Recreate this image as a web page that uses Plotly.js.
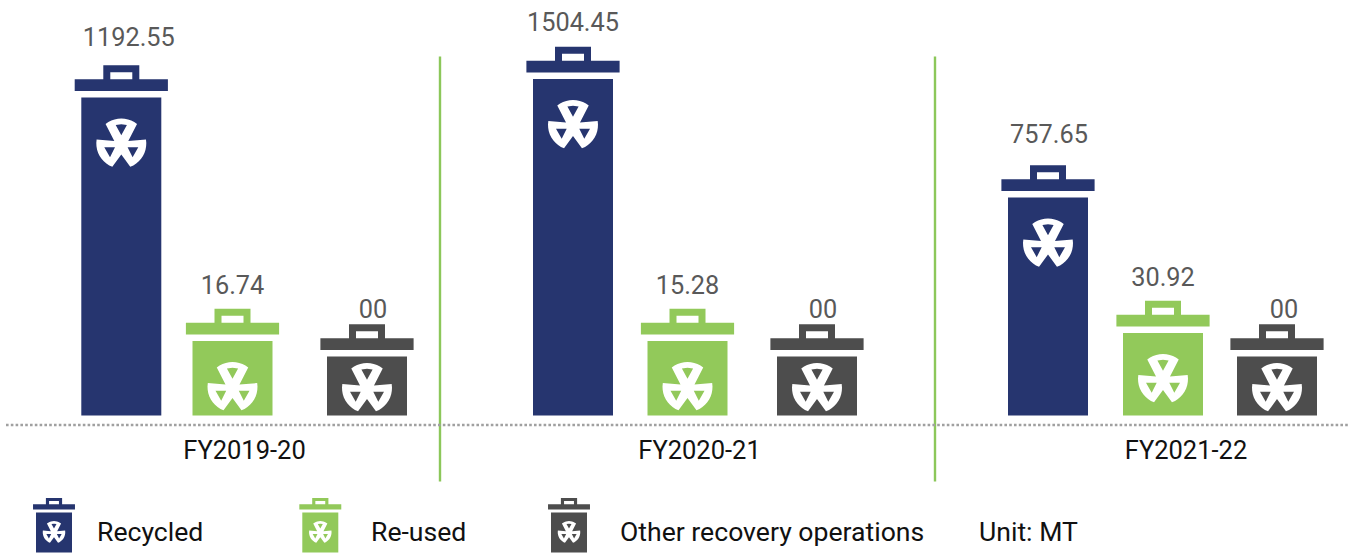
<!DOCTYPE html>
<html>
<head>
<meta charset="utf-8">
<script src="https://cdn.plot.ly/plotly-3.0.1.min.js"></script>
<style>html,body{margin:0;padding:0;background:#fff}#chart{width:1350px;height:553px}</style>
</head>
<body>
<div id="chart"></div>
<script>
// ---- data ----
const categories = ['FY2019-20', 'FY2020-21', 'FY2021-22'];
const seriesNames = ['Recycled', 'Re-used', 'Other recovery operations'];
const recycled = [1192.55, 1504.45, 757.65];
const reused = [16.74, 15.28, 30.92];
const other = [0, 0, 0];
const recycledLabels = ['1192.55', '1504.45', '757.65'];
const reusedLabels = ['16.74', '15.28', '30.92'];
const otherLabels = ['00', '00', '00'];
// The bins in the picture are pictorial: their heights are not proportional to the values.
const recycledBinHeights = [318, 336.5, 218];
const reusedBinHeights = [74.5, 74.5, 82.5];
const otherBinHeights = [59, 59, 59];
const unitNote = 'Unit: MT';

// ---- layout helpers (1 axis unit = 1 px) ----
const NAVY = '#26356f', GREEN = '#92c95a', GREY = '#4d4d4d';
const SEP = '#8cc75a', LABEL = '#595959', FONT = 'Roboto, sans-serif';
const series = [
  {name: seriesNames[0], vals: recycled, labels: recycledLabels, heights: recycledBinHeights, color: NAVY,
   xs: [121.3, 573, 1048], nudge: [7.5, 0, 1], gap: [25.5, 22.5, 28.5], legendX: 54, textX: 95},
  {name: seriesNames[1], vals: reused, labels: reusedLabels, heights: reusedBinHeights, color: GREEN,
   xs: [232.5, 687.5, 1163], nudge: [0, 0, 0], gap: [21.5, 21.5, 21], legendX: 320.3, textX: 369},
  {name: seriesNames[2], vals: other, labels: otherLabels, heights: otherBinHeights, color: GREY,
   xs: [367, 817, 1277], nudge: [6, 6, 7], gap: [12.5, 12.5, 12.5], legendX: 569, textX: 618}
];

function polyStr(pts, cx, cy, s) {
  return 'M' + pts.map(p => (cx + p[0] * s).toFixed(2) + ',' + (cy + p[1] * s).toFixed(2)).join('L') + 'Z';
}
function arc(r, a0, a1, n) {
  const out = [];
  for (let i = 0; i <= n; i++) {
    const a = (a0 + (a1 - a0) * i / n) * Math.PI / 180;
    out.push([r * Math.sin(a), r * Math.cos(a)]);
  }
  return out;
}
function trefoilPath(cx, cy, s) {
  const R = 25;
  const outer = [].concat(
    arc(R, -39, 39, 10), [[7, 2.6]],
    arc(R, 81, 159, 10), [[0, -11]],
    arc(R, 201, 279, 10), [[-7, 2.6]]
  );
  const holes = [
    [[-5.6, 18.4], [0, 19.2], [5.6, 18.4], [0, 8.3]],
    [[-17, -3.7], [-6.3, -3.7], [-11.3, -13.7]],
    [[6.3, -3.7], [17, -3.7], [11.3, -13.7]]
  ];
  return polyStr(outer, cx, cy, s) + holes.map(h => polyStr(h, cx, cy, s)).join('');
}
function lidPath(cx, top, s) {
  const lid = [[-46.6, 6.6], [46.6, 6.6], [46.6, 18.3], [18, 18.3], [18, 32.3], [-18, 32.3], [-18, 18.3], [-46.6, 18.3]];
  const hole = [[-11, 18.3], [11, 18.3], [11, 25.3], [-11, 25.3]];
  return polyStr(lid, cx, top, s) + polyStr(hole, cx, top, s);
}
function pathShape(path, color) {
  return {type: 'path', xref: 'x', yref: 'y', path: path, fillcolor: color, fillrule: 'evenodd', line: {width: 0}, layer: 'above'};
}

const shapes = [];
const annotations = [];
const traces = [];

series.forEach(s => {
  traces.push({
    type: 'bar', name: s.name, x: s.xs, y: s.heights, width: 80,
    marker: {color: s.color, line: {width: 0}},
    customdata: s.labels, hovertemplate: '%{customdata}<extra>' + s.name + '</extra>', showlegend: false
  });
  traces.push({
    type: 'scatter', mode: 'text', x: s.xs.map((x, i) => x + s.nudge[i]),
    y: s.heights.map((h, i) => h + 32.3 + s.gap[i]),
    text: s.labels, textposition: 'middle center',
    textfont: {family: FONT, size: 25.3, color: LABEL}, hoverinfo: 'skip', showlegend: false
  });
  s.xs.forEach((x, i) => {
    const h = s.heights[i];
    shapes.push(pathShape(lidPath(x, h, 1), s.color));
    shapes.push(pathShape(trefoilPath(x, Math.max(27.5, h - 46), 1), '#ffffff'));
  });
  // hand-drawn legend key: a small bin
  const k = 0.45, top = -97;
  shapes.push(pathShape(polyStr([[-40, 0], [40, 0], [40, -89], [-40, -89]], s.legendX, top, k), s.color));
  shapes.push(pathShape(lidPath(s.legendX, top, k), s.color));
  shapes.push(pathShape(trefoilPath(s.legendX, top - 19.8, k), '#ffffff'));
  annotations.push({
    xref: 'x', yref: 'y', x: s.textX, y: -116, text: s.name, showarrow: false, xanchor: 'left', yanchor: 'middle',
    font: {family: FONT, size: 26.6, color: '#111111'}
  });
});
annotations.push({
  xref: 'x', yref: 'y', x: 976.5, y: -116, text: unitNote, showarrow: false, xanchor: 'left', yanchor: 'middle',
  font: {family: FONT, size: 26.6, color: '#111111'}
});

// separators and dotted base line
[440, 935].forEach(x => shapes.push({
  type: 'line', xref: 'x', yref: 'y', x0: x, x1: x, y0: -66, y1: 359, line: {color: SEP, width: 2.4}, layer: 'above'
}));
shapes.push({
  type: 'line', xref: 'x', yref: 'y', x0: 6, x1: 1350, y0: -9.5, y1: -9.5,
  line: {color: '#a0a0a0', width: 2.6, dash: '2.6px,2.2px'}, layer: 'above'
});

const layout = {
  width: 1350, height: 553,
  margin: {l: 0, r: 0, t: 0, b: 0},
  paper_bgcolor: '#ffffff', plot_bgcolor: '#ffffff',
  barmode: 'overlay', showlegend: false,
  font: {family: FONT},
  xaxis: {
    range: [0, 1350], fixedrange: true, showgrid: false, zeroline: false, showline: false,
    tickmode: 'array', tickvals: [244.5, 699.5, 1186], ticktext: categories,
    ticks: 'outside', ticklen: 2, tickcolor: 'rgba(0,0,0,0)',
    tickfont: {family: FONT, size: 25.5, color: '#111111'},
    anchor: 'free', position: (553 - 425) / 553
  },
  yaxis: {range: [-137.5, 415.5], fixedrange: true, visible: false},
  shapes: shapes,
  annotations: annotations
};
Plotly.newPlot('chart', traces, layout, {displayModeBar: false, responsive: false});
</script>
</body>
</html>
